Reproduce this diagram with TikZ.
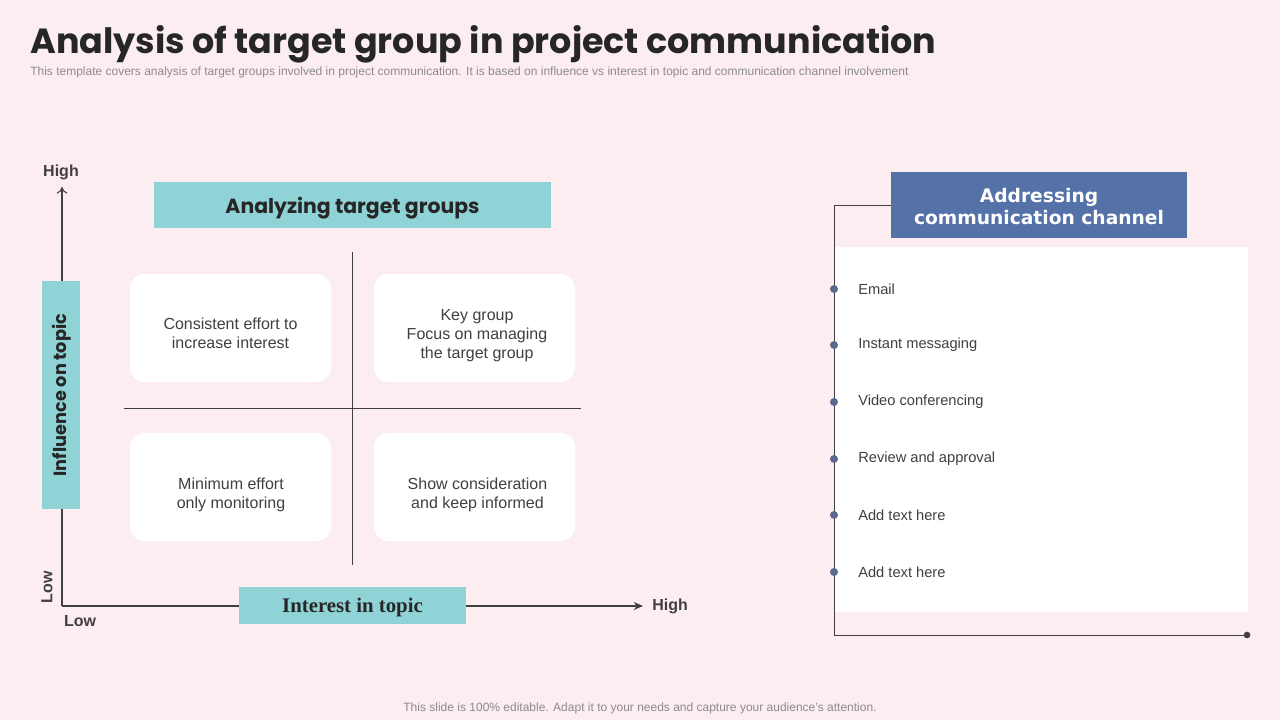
\documentclass[tikz,border=0pt]{standalone}
\usepackage{fontspec}
\setmainfont{Liberation Sans}
\newfontfamily\headfont{Poppins}
\newfontfamily\boxfont{DejaVu Sans}
\newfontfamily\slabfont{Liberation Serif}
\usetikzlibrary{arrows.meta}

\definecolor{bgpink}{HTML}{FCEDF0}
\definecolor{teal}{HTML}{8FD3D7}
\definecolor{chanblue}{HTML}{5472A8}
\definecolor{dotblue}{HTML}{5A6A8E}
\definecolor{inkdark}{HTML}{262626}
\definecolor{inkgray}{HTML}{404040}
\definecolor{notegray}{HTML}{8C8C8C}

\begin{document}
\begin{tikzpicture}[x=0.75pt,y=-0.75pt,
  tealbox/.style={fill=teal, inner sep=0pt, text=inkdark},
  quadbox/.style={fill=white, rounded corners=11pt, minimum width=150.75pt, minimum height=81pt},
  quadtext/.style={align=center, font=\fontsize{12}{14.25}\selectfont, text=inkgray, inner sep=0pt},
  axislabel/.style={font=\bfseries\fontsize{12}{14}\selectfont, text=inkgray, inner sep=0pt},
  itemtext/.style={anchor=west, font=\fontsize{11}{13}\selectfont, text=inkgray, inner sep=0pt},
  itemdot/.style={circle, fill=dotblue, minimum size=6pt, inner sep=0pt}]

% background
\fill[bgpink] (0,0) rectangle (1280,720);
\useasboundingbox (0,0) rectangle (1280,720);

% heading
\node[anchor=base west, inner sep=0pt, text=inkdark] (title) at (30,54)
  {\headfont\bfseries\fontsize{26.2}{30}\selectfont Analysis of target group in project communication};
\node[anchor=base west, inner sep=0pt, text=notegray] (subtitle) at (30,76)
  {\fontsize{9}{11}\selectfont This template covers analysis of target groups involved in project communication. It is based on influence vs interest in topic and communication channel involvement};

% axes
\coordinate (origin) at (62,606);
\coordinate (ytop) at (62,187);
\coordinate (xend) at (643,606);
\draw[inkgray, thick, -{To[length=5pt,width=8pt]}] (origin) -- (ytop);
\draw[inkgray, thick, -{Stealth[length=7pt,width=6pt]}] (origin) -- (xend);
\node[axislabel] (yhigh) at (61,172) {High};
\node[axislabel, anchor=west] (xhigh) at (652,606) {High};
\node[axislabel] (xlow) at (80,621) {Low};
\node[axislabel, rotate=90] (ylow) at (47,587) {Low};

\node[tealbox, minimum width=28.5pt, minimum height=171pt] (influence) at (61,395) {};
\node[rotate=90, text=inkdark, inner sep=0pt] (influencetext) at (62,395)
  {\headfont\bfseries\fontsize{13.3}{15}\selectfont Influence on topic};
\node[tealbox, minimum width=170.25pt, minimum height=27.75pt] (interest) at (352.5,605.5) {};
\node[text=inkdark, inner sep=0pt] (interesttext) at (352.5,607)
  {\slabfont\bfseries\fontsize{15.6}{17}\selectfont Interest in topic};

% matrix of target groups
\node[tealbox, minimum width=297.75pt, minimum height=34.5pt] (analyzing) at (352.5,205) {};
\node[text=inkdark, inner sep=0pt] (analyzingtext) at (352.5,208)
  {\headfont\bfseries\fontsize{15.3}{17}\selectfont Analyzing target groups};
\coordinate (vtop) at (352,252);
\coordinate (vbot) at (352,565);
\coordinate (hleft) at (124,408);
\coordinate (hright) at (581,408);
\draw[inkgray] (vtop) -- (vbot);
\draw[inkgray] (hleft) -- (hright);

\node[quadbox] (tl) at (230.5,328) {};
\node[quadbox] (tr) at (474.5,328) {};
\node[quadbox] (bl) at (230.5,487) {};
\node[quadbox] (br) at (474.5,487) {};
\node[quadtext] (tltext) at (230.5,333) {Consistent effort to\\increase interest};
\node[quadtext] (trtext) at (477,336) {Key group\\Focus on managing\\the target group};
\node[quadtext] (bltext) at (231,495) {Minimum effort\\only monitoring};
\node[quadtext] (brtext) at (477.5,495) {Show consideration\\and keep informed};

% communication channels
\fill[white] (834,247) rectangle (1248,612);
\node[fill=chanblue, minimum width=222pt, minimum height=49.5pt] (channel) at (1039,205) {};
\node[text=white, align=center, inner sep=0pt,
  font=\boxfont\bfseries\fontsize{14}{16.5}\selectfont] (channeltext) at (1039,207)
  {Addressing\\communication channel};
\coordinate (corner) at (834,205);
\coordinate (lowcorner) at (834,635);
\coordinate (lineend) at (1247,635);
\draw[inkgray] (channel.west) -- (corner) -- (lowcorner) -- (lineend);
\fill[inkgray] (lineend) circle[radius=2.5pt];

\foreach \y/\txt [count=\i] in {289/Email, 345/Instant messaging, 402/Video conferencing,
    459/Review and approval, 515/Add text here, 572/Add text here} {
  \node[itemdot] (dot\i) at (834,\y) {};
  \node[itemtext] (item\i) at (858,\y) {\txt};
}

% footer
\node[text=notegray, inner sep=0pt] (footer) at (640,708)
  {\fontsize{9}{11}\selectfont This slide is 100\% editable. Adapt it to your needs and capture your audience's attention.};
\end{tikzpicture}
\end{document}
